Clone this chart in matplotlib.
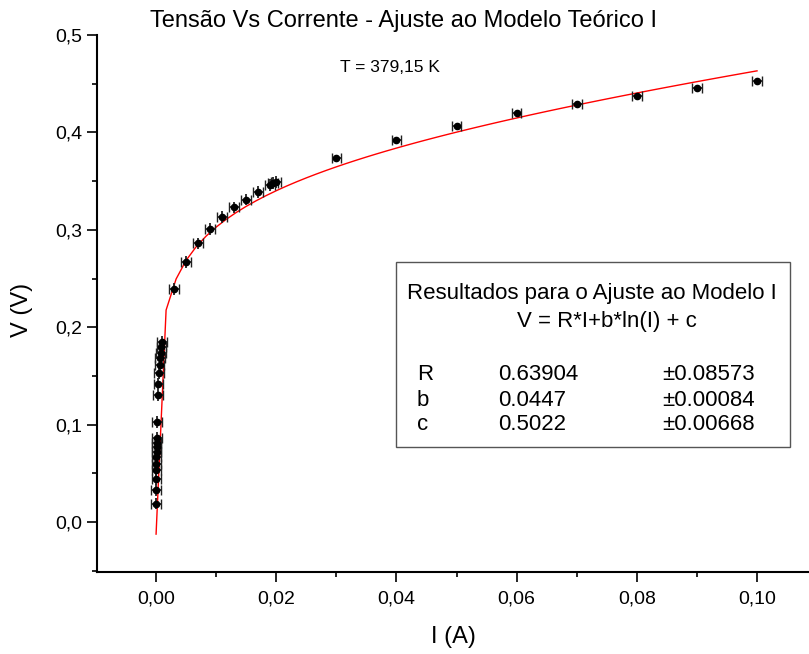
import numpy as np
import matplotlib
matplotlib.use('Agg')
from matplotlib import pyplot as plt
from matplotlib.ticker import MultipleLocator, FuncFormatter

# medidas (I em A, V em V)
corrente = [0.00002, 0.00004, 0.00005, 0.00006, 0.00007, 0.00008, 0.00009, 0.0001,
            0.00011, 0.00013, 0.0002, 0.0003, 0.0004, 0.0005, 0.0006, 0.0007,
            0.0008, 0.0009, 0.001,
            0.003, 0.005, 0.007, 0.009, 0.011, 0.013, 0.015, 0.017, 0.019,
            0.0195, 0.020,
            0.03, 0.04, 0.05, 0.06, 0.07, 0.08, 0.09, 0.10]
tensao = [0.019, 0.033, 0.044, 0.053, 0.060, 0.067, 0.072, 0.077,
          0.081, 0.086, 0.103, 0.130, 0.142, 0.153, 0.161, 0.168,
          0.174, 0.180, 0.185,
          0.239, 0.267, 0.286, 0.301, 0.313, 0.323, 0.331, 0.339, 0.346,
          0.348, 0.349,
          0.374, 0.392, 0.407, 0.420, 0.429, 0.437, 0.446, 0.453]
erro_i = 0.0008
erro_v = [0.006] * 30 + [0.002] * 8

# parametros do ajuste V = R*I + b*ln(I) + c
R, R_err = 0.63904, 0.08573
b, b_err = 0.0447, 0.00084
c, c_err = 0.5022, 0.00668

plt.rcParams['font.family'] = ['Liberation Sans', 'DejaVu Sans']


def virgula(valor, casas):
    return f'{valor:.{casas}f}'.replace('.', ',')


fig = plt.figure(figsize = (8.09, 6.54), dpi = 100)
ax = fig.add_axes([0.1199, 0.1254, 0.8801, 0.8211])

# curva do modelo
I_fit = np.linspace(1e-5, 0.1, 61)
V_fit = R * I_fit + b * np.log(I_fit) + c
ax.plot(I_fit, V_fit, color = 'red', lw = 1.0, zorder = 2)

# barras de erro: horizontais com capa, verticais sem
ax.errorbar(corrente, tensao, xerr = erro_i, fmt = 'none', ecolor = '#222222',
            elinewidth = 1.3, capsize = 3.5, capthick = 1.0, zorder = 3)
ax.errorbar(corrente, tensao, yerr = erro_v, fmt = 'o', ms = 4.5, color = 'black',
            ecolor = '#222222', elinewidth = 1.3, capsize = 0, zorder = 3)

ax.set_xlim(-0.00982, 0.10865)
ax.set_ylim(-0.0513, 0.5)

ax.xaxis.set_major_locator(MultipleLocator(0.02))
ax.xaxis.set_minor_locator(MultipleLocator(0.01))
ax.yaxis.set_major_locator(MultipleLocator(0.1))
ax.yaxis.set_minor_locator(MultipleLocator(0.05))
ax.xaxis.set_major_formatter(FuncFormatter(lambda v, p: virgula(v, 2)))
ax.yaxis.set_major_formatter(FuncFormatter(lambda v, p: virgula(v, 1)))

ax.tick_params(which = 'major', direction = 'out', length = 7, width = 1.2, labelsize = 14)
ax.tick_params(axis = 'x', which = 'major', pad = 6)
ax.tick_params(which = 'minor', direction = 'out', length = 3.5, width = 1.2)
ax.spines['top'].set_visible(False)
ax.spines['right'].set_visible(False)
ax.spines['left'].set_linewidth(1.5)
ax.spines['bottom'].set_linewidth(1.5)

ax.set_xlabel('I (A)', fontsize = 17)
ax.set_ylabel('V (V)', fontsize = 17)
ax.xaxis.set_label_coords(0.5, -0.121)
ax.yaxis.set_label_coords(-0.106, 0.488)
ax.xaxis.label.set_va('center')
ax.yaxis.label.set_va('center')

fig.text(403 / 809, 1 - 21 / 654, 'Tensão Vs Corrente - Ajuste ao Modelo Teórico I',
         ha = 'center', va = 'center', fontsize = 17)
fig.text(390 / 809, 1 - 68 / 654, 'T = 379,15 K', ha = 'center', va = 'center', fontsize = 12.5)

# caixa de resultados
caixa = plt.Rectangle((396 / 809, 1 - 447 / 654), (790 - 396) / 809, (447 - 262) / 654,
                      transform = fig.transFigure, facecolor = 'white', edgecolor = '#555555',
                      lw = 1.0, zorder = 5)
fig.patches.append(caixa)
fig.text(592 / 809, 1 - 293 / 654, 'Resultados para o Ajuste ao Modelo I',
         ha = 'center', va = 'center', fontsize = 16, zorder = 6)
fig.text(607 / 809, 1 - 322 / 654, 'V = R*I+b*ln(I) + c',
         ha = 'center', va = 'center', fontsize = 16, zorder = 6)
linhas = [('R', R, R_err), ('b', b, b_err), ('c', c, c_err)]
for k, (nome, val, err) in enumerate(linhas):
    y = 1 - (375 + 25 * k) / 654
    fig.text(417 / 809, y, nome, ha = 'left', va = 'center', fontsize = 16, zorder = 6)
    fig.text(498 / 809, y, f'{val:g}', ha = 'left', va = 'center', fontsize = 16, zorder = 6)
    fig.text(662 / 809, y, f'±{err:g}', ha = 'left', va = 'center', fontsize = 16, zorder = 6)

fig.savefig('out.png', dpi = 100)
